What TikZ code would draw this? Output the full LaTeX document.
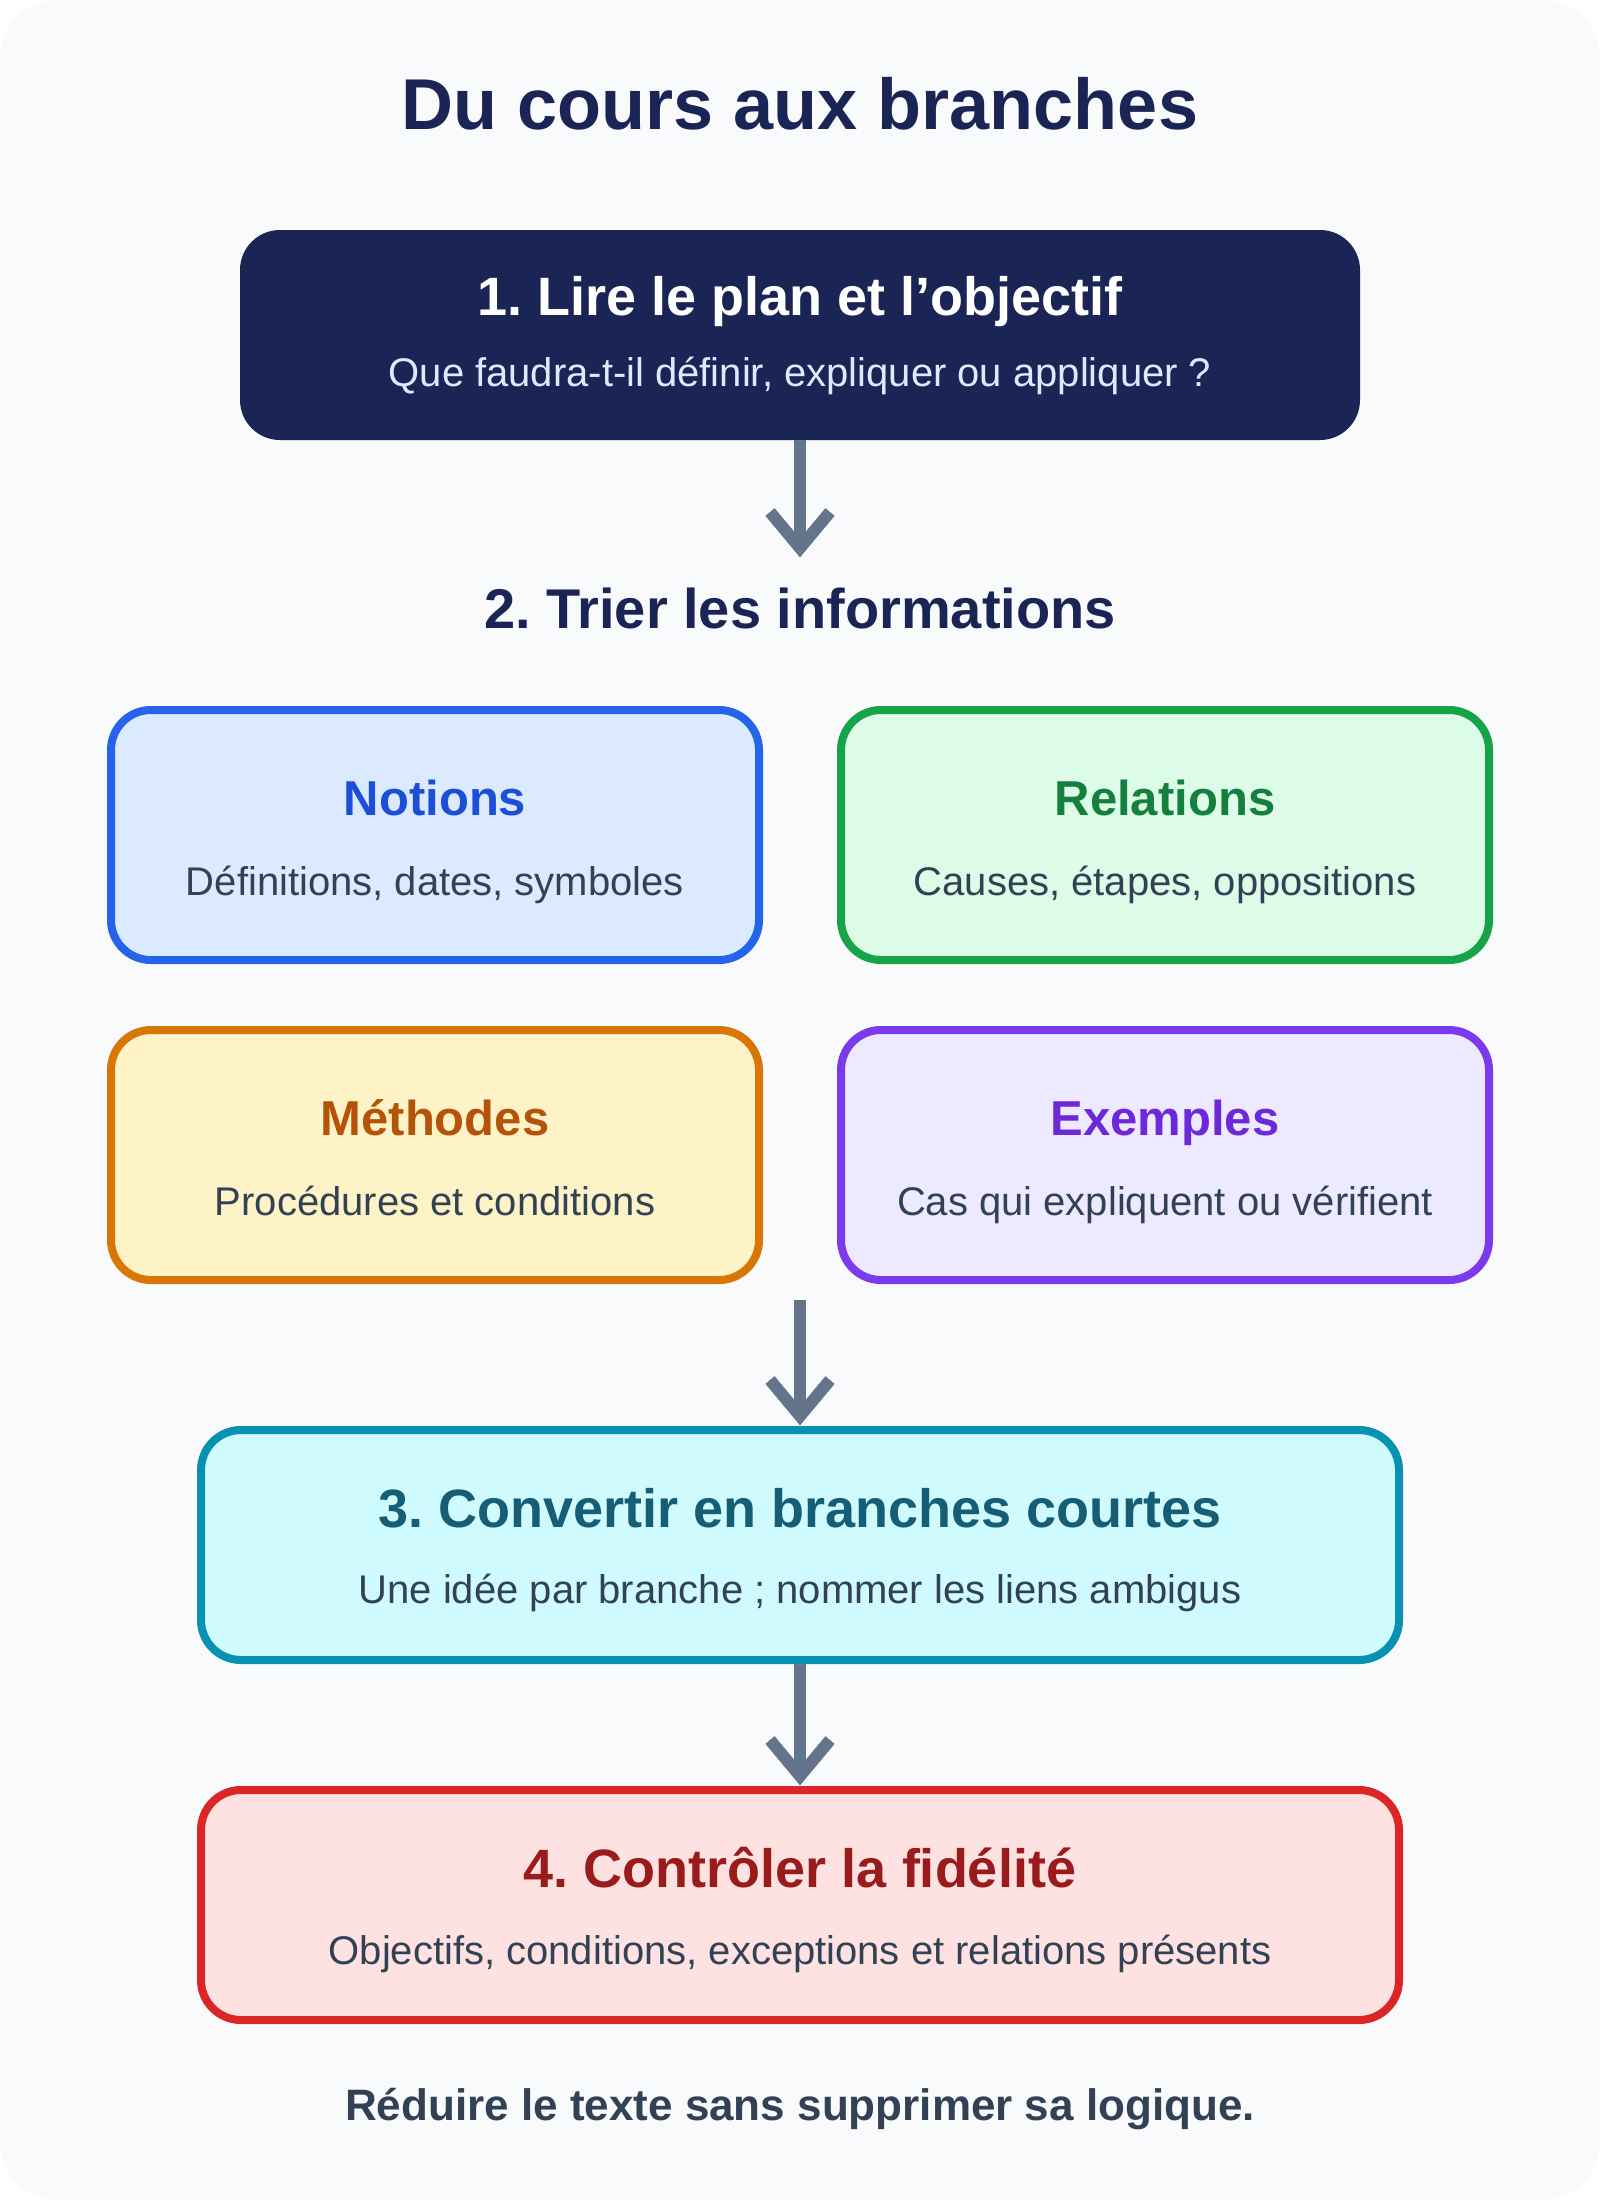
\documentclass[tikz,border=0pt]{standalone}
\usepackage{fontspec}
\setmainfont{Liberation Sans}
\usetikzlibrary{calc}
\frenchspacing
\definecolor{bgc}{HTML}{F8FAFC}
\definecolor{navy}{HTML}{1B2555}
\definecolor{slate}{HTML}{64748B}
\definecolor{txt}{HTML}{334155}
\definecolor{lightblue}{HTML}{DBEAFE}
\definecolor{nB}{HTML}{2563EB}\definecolor{nF}{HTML}{DBEAFE}\definecolor{nT}{HTML}{1D4ED8}
\definecolor{rB}{HTML}{16A34A}\definecolor{rF}{HTML}{DCFCE7}\definecolor{rT}{HTML}{15803D}
\definecolor{mB}{HTML}{D97706}\definecolor{mF}{HTML}{FEF3C7}\definecolor{mT}{HTML}{B45309}
\definecolor{eB}{HTML}{7C3AED}\definecolor{eF}{HTML}{EDE9FE}\definecolor{eT}{HTML}{6D28D9}
\definecolor{cB}{HTML}{0891B2}\definecolor{cF}{HTML}{CFFAFE}\definecolor{cT}{HTML}{155E75}
\definecolor{fB}{HTML}{DC2626}\definecolor{fF}{HTML}{FEE2E2}\definecolor{fT}{HTML}{991B1B}
\newcommand\chevhead[1]{\draw[shaft,line join=miter] ($(#1)+(-30,-46)$) -- ($(#1)+(0,-10)$) -- ($(#1)+(30,-46)$);}
\begin{document}
\begin{tikzpicture}[x=0.5pt,y=-0.5pt,
  box/.style={rectangle,rounded corners=20pt,line width=4pt,inner sep=0pt},
  quad/.style={box,minimum width=324pt,minimum height=125pt},
  wide/.style={box,minimum width=599pt,minimum height=115pt},
  ttl/.style={anchor=base,inner sep=0pt,font=\fontsize{27}{32}\selectfont\bfseries},
  qttl/.style={anchor=base,inner sep=0pt,font=\fontsize{24.5}{29}\selectfont\bfseries},
  sub/.style={anchor=base,inner sep=0pt,text=txt,font=\fontsize{20}{24}\selectfont},
  shaft/.style={draw=slate,line width=6pt}]
\useasboundingbox (0,0) rectangle (1600,2200);
\fill[white] (0,0) rectangle (1600,2200);
\fill[bgc,rounded corners=28pt] (0,0) rectangle (1600,2200);

\node[anchor=base,inner sep=0pt,text=navy,font=\fontsize{36}{42}\selectfont\bfseries] (title) at (800,129.5) {Du cours aux branches};

\node[rectangle,rounded corners=20pt,inner sep=0pt,outer sep=0pt,fill=navy,minimum width=560pt,minimum height=105pt] (b1) at (800,335) {};
\node[ttl,text=white] (b1t) at (800,315.5) {1. Lire le plan et l’objectif};
\node[sub,text=lightblue] (b1s) at (800,386) {Que faudra-t-il définir, expliquer ou appliquer ?};

\coordinate (c1) at (800,558);
\node[anchor=base,inner sep=0pt,text=navy,font=\fontsize{28}{33}\selectfont\bfseries] (s2) at (800,628.5) {2. Trier les informations};

\node[quad,draw=nB,fill=nF] (q1) at (435,835) {};
\node[qttl,text=nT] at (435,815.5) {Notions};
\node[sub] at (435,895.5) {Définitions, dates, symboles};

\node[quad,draw=rB,fill=rF] (q2) at (1165,835) {};
\node[qttl,text=rT] at (1165,815.5) {Relations};
\node[sub] at (1165,895.5) {Causes, étapes, oppositions};

\node[quad,draw=mB,fill=mF] (q3) at (435,1155) {};
\node[qttl,text=mT] at (435,1135.5) {Méthodes};
\node[sub] at (435,1215.5) {Procédures et conditions};

\node[quad,draw=eB,fill=eF] (q4) at (1165,1155) {};
\node[qttl,text=eT] at (1165,1135.5) {Exemples};
\node[sub] at (1165,1215.5) {Cas qui expliquent ou vérifient};

\coordinate (g2) at (800,1300);

\node[wide,draw=cB,fill=cF] (b3) at (800,1545) {};
\node[ttl,text=cT] at (800,1527.5) {3. Convertir en branches courtes};
\node[sub] at (800,1603) {Une idée par branche ; nommer les liens ambigus};

\node[wide,draw=fB,fill=fF] (b4) at (800,1905) {};
\node[ttl,text=fT] at (800,1887.5) {4. Contrôler la fidélité};
\node[sub] at (800,1964) {Objectifs, conditions, exceptions et relations présents};

\node[anchor=base,inner sep=0pt,text=txt,font=\fontsize{22}{26}\selectfont\bfseries] (foot) at (800,2120) {Réduire le texte sans supprimer sa logique.};

% connectors
\draw[shaft] (b1.south) -- ($(c1)+(0,-10)$);
\chevhead{c1}
\draw[shaft] (g2) -- ($(b3.north)+(0,-10)$);
\chevhead{b3.north}
\draw[shaft] (b3.south) -- ($(b4.north)+(0,-10)$);
\chevhead{b4.north}
\end{tikzpicture}
\end{document}
